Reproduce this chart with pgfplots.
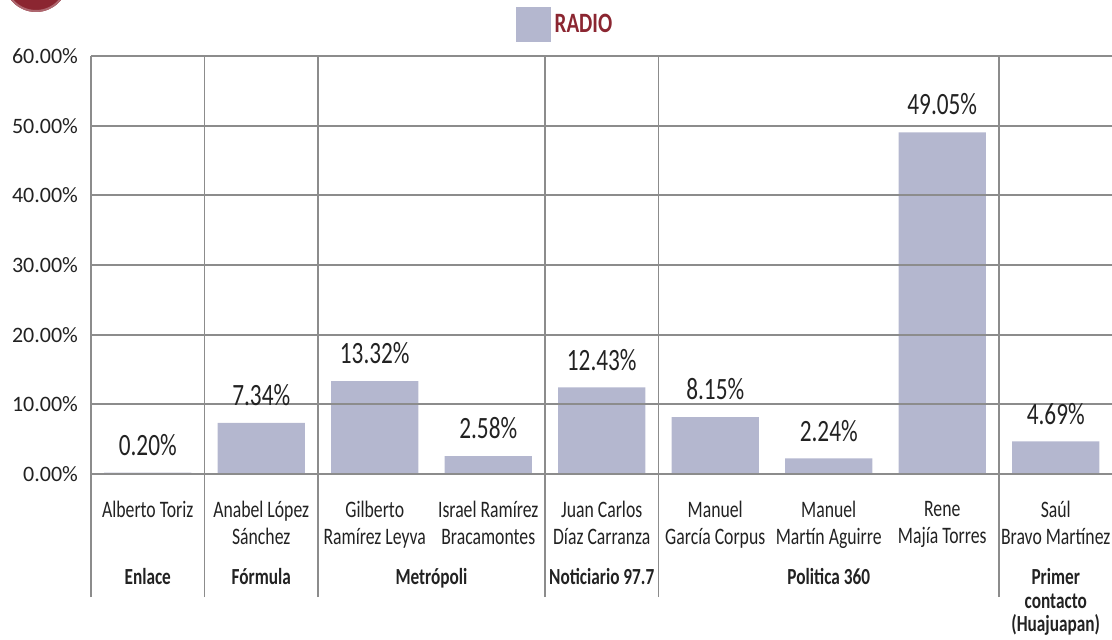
\documentclass[border=0pt]{standalone}
\usepackage{pgfplots}
\pgfplotsset{compat=1.18}
\usepackage{fontspec}
\setmainfont{Carlito}
\newfontfamily\cond{Carlito}[FakeStretch=0.75]
\definecolor{barcol}{HTML}{B4B7CF}
\definecolor{titred}{HTML}{8B2631}
\definecolor{gridcol}{HTML}{8C8C8C}
\definecolor{txt}{HTML}{222222}
\begin{document}
\begin{tikzpicture}
\useasboundingbox (-45.5pt,-83pt) rectangle (510.5pt,237pt);
\fill[titred] (-27.5pt,247pt) circle (16pt);
\draw[titred!70!white, line width=1pt] (-27.5pt,247pt) circle (15.5pt);
\begin{axis}[
 scale only axis, width=510.75pt, height=209pt,
 xmin=-0.5, xmax=8.5, ymin=0, ymax=60,
 clip=false,
 axis line style={draw=none},
 ybar, bar width=43.5pt,
 ytick={0,10,...,60},
 yticklabel={\pgfmathprintnumber[fixed,fixed zerofill,precision=2]{\tick}\%},
 /pgf/number format/assume math mode=true,
 yticklabel style={font=\fontsize{11}{12}\selectfont, text=txt, xshift=-3pt},
 ymajorgrids, major grid style={gridcol, line width=0.9pt},
 major tick length=0pt,
 xtick={0,...,8},
 xticklabels={Alberto Toriz, {Anabel López\\Sánchez}, {Gilberto\\Ramírez Leyva}, {Israel Ramírez\\Bracamontes}, {Juan Carlos\\Díaz Carranza}, {Manuel\\García Corpus}, {Manuel\\Martín Aguirre}, {Rene\\Majía Torres}, {Saúl\\Bravo Martínez}},
 xticklabel style={font=\cond\fontsize{11.8}{13.5}\selectfont, text=txt, align=center, anchor=north, yshift=-10pt},
 extra x ticks={-0.5,0.5,1.5,3.5,4.5,7.5},
 extra x tick labels={},
 extra x tick style={xmajorgrids=true, major tick length=61.5pt, tick align=outside, tick style={gridcol, line width=0.9pt}},
 xtick pos=left, ytick pos=left,
 axis on top,
 legend style={draw=none, fill=none, at={(axis description cs:0.465,1)}, anchor=center, yshift=15.75pt, font=\cond\bfseries\fontsize{14}{16}\selectfont, text=titred},
 legend image code/.code={\fill[barcol] (0pt,-8.75pt) rectangle (17.5pt,8.75pt);},
]
\addplot[fill=barcol, draw=none,
 nodes near coords={\pgfmathprintnumber[fixed,fixed zerofill,precision=2]{\pgfplotspointmeta}\%},
 nodes near coords style={font=\cond\fontsize{15.5}{18}\selectfont, text=txt, yshift=5pt}]
 coordinates {(0,0.20) (1,7.34) (2,13.32) (3,2.58) (4,12.43) (5,8.15) (6,2.24) (7,49.05) (8,4.69)};
\addlegendentry{RADIO}
\begin{scope}[every node/.style={anchor=north, font=\cond\bfseries\fontsize{11.5}{11.8}\selectfont, text=txt, align=center, yshift=-45pt, inner ysep=2pt}]
\node at (axis cs:0,0) {Enlace};
\node at (axis cs:1,0) {Fórmula};
\node at (axis cs:2.5,0) {Metrópoli};
\node at (axis cs:4,0) {Noticiario 97.7};
\node at (axis cs:6,0) {Politica 360};
\node at (axis cs:8,0) {Primer\\contacto\\(Huajuapan)};
\end{scope}
\end{axis}
\end{tikzpicture}
\end{document}
